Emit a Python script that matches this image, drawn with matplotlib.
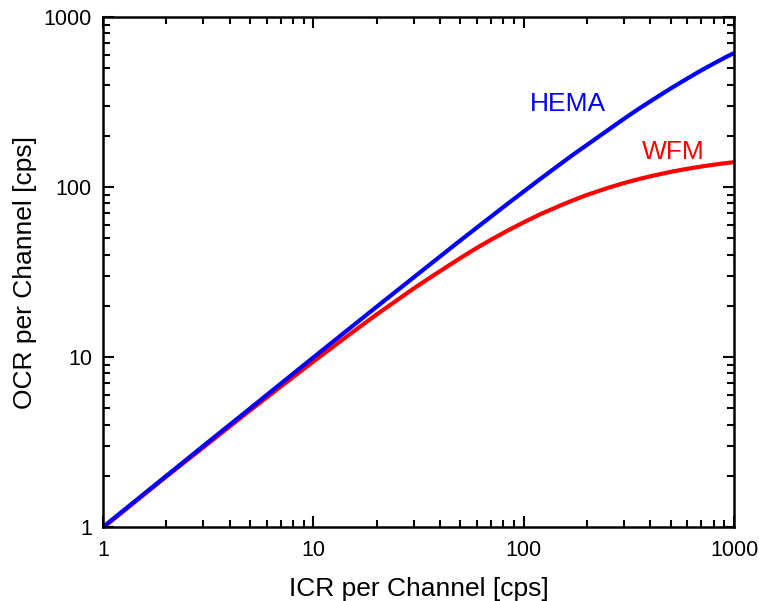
import matplotlib
matplotlib.use("Agg")
from matplotlib import pyplot as plt
from matplotlib.ticker import LogLocator, NullFormatter, FixedLocator, FixedFormatter

plt.rcParams['font.family'] = ['Liberation Sans', 'DejaVu Sans']

# values
icr = [1, 2, 3, 5, 7, 10, 15, 20, 30, 40, 50, 60, 70, 85, 100, 120, 150, 170, 200,
       250, 300, 350, 400, 500, 600, 700, 800, 900, 1000]
ocr_hema = [1.0, 2.0, 3.0, 4.98, 6.97, 9.94, 14.86, 19.75, 29.4, 39.0, 48.5, 57.8,
            67.0, 80.7, 94.0, 111.6, 137.0, 153.6, 177.0, 215.0, 252.0, 286.8,
            319.0, 380.0, 435.0, 486.0, 532.0, 575.0, 614.0]
ocr_wfm = [0.99, 1.98, 2.94, 4.85, 6.7, 9.4, 13.7, 17.8, 25.3, 32.0, 38.2, 43.9,
           49.0, 55.9, 62.0, 69.2, 78.0, 83.2, 89.8, 98.6, 105.5, 111.1, 115.6,
           122.8, 128.0, 132.0, 135.2, 137.9, 140.0]

tick_vals = [1, 10, 100, 1000]
tick_text = ['1', '10', '100', '1000']

fig = plt.figure(figsize=(7.59, 6.01), dpi=100)
ax = fig.add_axes([0.1357, 0.1231, 0.8314, 0.8486])

ax.plot(icr, ocr_wfm, color='#ff0000', linewidth=3, solid_capstyle='butt')
ax.plot(icr, ocr_hema, color='#0000ff', linewidth=3, solid_capstyle='butt')

ax.set_xscale('log')
ax.set_yscale('log')
ax.set_xlim(1, 1000)
ax.set_ylim(1, 1000)

for axis in (ax.xaxis, ax.yaxis):
    axis.set_major_locator(FixedLocator(tick_vals))
    axis.set_major_formatter(FixedFormatter(tick_text))
    axis.set_minor_locator(LogLocator(base=10, subs=range(2, 10)))
    axis.set_minor_formatter(NullFormatter())

ax.tick_params(which='both', direction='in', top=True, right=True)
ax.tick_params(which='major', labelsize=15.5, length=8, width=1.5)
ax.tick_params(which='minor', length=5, width=1.5)
ax.tick_params(axis='x', which='major', pad=9)
ax.tick_params(axis='y', which='major', pad=8)
for s in ax.spines.values():
    s.set_linewidth(1.8)

ax.set_xlabel('ICR per Channel [cps]', fontsize=19, labelpad=12)
ax.set_ylabel('OCR per Channel [cps]', fontsize=19, labelpad=5)

ax.text(107, 280, 'HEMA', color='#0000ff', fontsize=19, ha='left', va='baseline')
ax.text(366, 146, 'WFM', color='#ff0000', fontsize=19, ha='left', va='baseline')

fig.savefig('out.png', dpi=100)
